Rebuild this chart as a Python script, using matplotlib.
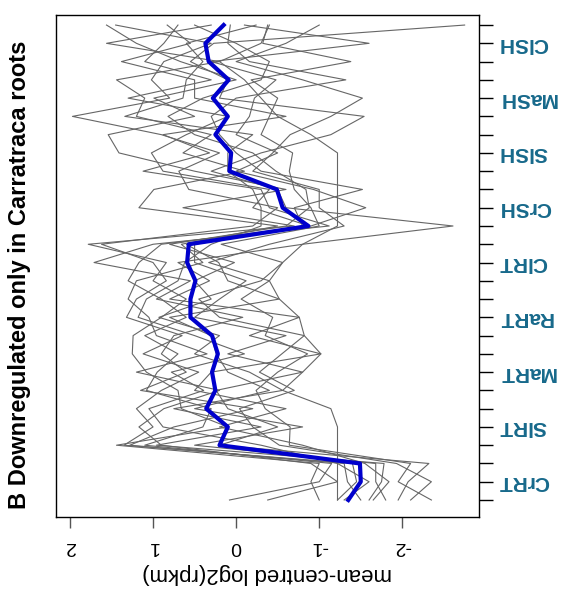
import matplotlib.pyplot as plt
import numpy as np

plt.rcParams['font.family'] = ['Liberation Sans', 'DejaVu Sans']

# samples bottom -> top, three replicates each
groups = ['CrRT', 'SlRT', 'MaRT', 'RaRT', 'ClRT', 'CrSH', 'SlSH', 'MaSH', 'ClSH']
n_rep = 3

# mean-centred log2(rpkm) of each gene, 27 samples
gene_01 = [0.08, -1.0, -1.15, 1.1, 0.40, 0.3, 1.08, 0.95, 0.7, 1.1, 0.6, 0.9, 1.3, 1.17, 0.9,
           -0.88, -0.2, -0.4, 0.88, 1.02, 0.6, 0.1, 1.3, 0.3, 1.1, 0.87, 0.70]
gene_02 = [-0.38, -1.22, -0.9, 0.90, 1.17, 0.87, 0.2, 1.2, 0.35, 0.96, 1.05, 1.3, 1.2, 0.4, 0.66,
           -0.5, 1.17, 0.99, -0.1, 0.64, 0.3, 1.2, 1.1, 1.44, 0.2, 1.56, 0.3]
gene_03 = [-1.0, -0.9, -1.0, 1.44, 0.1, 0.66, 0.7, 1.08, 1.25, 1.24, 0.9, 0.6, 1.0, 0.84, 1.78,
           -0.7, 0.64, -0.6, 0.5, 1.41, 1.54, 0.5, 0.99, 0.0, 0.67, 1.2, 1.56]
gene_04 = [-1.22, -1.45, -1.4, 1.35, 1.0, 1.2, 0.9, 0.45, 1.12, 0.65, 1.32, 1.2, 0.84, 1.0, 1.62,
           -0.2, -0.5, 0.57, 0.69, 0.2, 0.9, 1.97, 0.8, 1.02, 0.87, 0.3, 1.45]
gene_05 = [-1.3, -1.6, -1.22, -0.3, 0.88, 1.05, 0.39, 0.78, -0.1, 0.5, 1.18, 1.08, 0.7, 0.62, 0.3,
           -0.3, -0.3, -0.2, 0.1, 0.1, -0.2, 1.34, 0.64, 0.6, 0.40, 0.6, -0.24]
gene_06 = [-1.5, -1.34, -1.3, 1.28, 0.75, -0.2, 1.15, 0.6, 0.9, 0.75, -0.08, 0.96, 0.55, 1.71, 1.0,
           -1.12, -0.4, -0.3, 1.12, 0.32, 0.88, -0.6, 0.5, 0.5, 1.38, 0.55, 0.83]
gene_07 = [-1.6, -1.75, -1.78, 0.96, -0.3, 0.75, -0.56, -0.16, 0.5, 0.2, 0.93, 0.3, 0.5, 0.02, 0.8,
           -0.6, -0.88, -0.84, -0.48, -0.2, 0.5, 0.82, 0.4, -0.3, -0.4, 0.0, 0.5]
gene_08 = [-1.65, -1.84, -1.55, -0.8, 0.2, -0.6, 0.5, 0.3, -1.02, -0.16, -0.76, 0.8, 0.32, 0.7, -0.8,
           -2.61, -0.6, -0.5, 0.3, -0.3, -1.14, -1.54, 0.2, 0.1, 0.55, 0.27, -2.75]
gene_09 = [-1.8, -1.68, -1.68, 0.5, -0.8, 0.5, -0.4, 0.1, 0.24, 0.3, 0.8, -0.52, 0.1, 0.21, 0.6,
           -0.8, -0.7, -1.52, -0.3, 0.0, 0.2, 0.3, 0.0, -1.32, -0.16, 0.10, 0.07]
gene_10 = [-1.95, -2.07, -2.32, 0.2, -0.5, 0.1, 0.24, -0.8, 0.1, -0.6, 0.5, 0.2, -0.12, 0.5, 0.5,
           -0.9, -1.56, -0.93, 0.0, -0.5, 0.0, -0.16, -0.22, -0.48, 0.3, -1.60, -0.1]
gene_11 = [-2.1, -2.35, -1.93, -0.52, -0.2, -0.04, -0.7, -0.28, -0.55, -0.82, 0.2, 0.45, -0.3, -0.56, 0.18,
           -1.0, -0.9, -0.7, -0.64, -0.68, -0.3, -0.4, -0.5, -0.18, -1.38, -0.32, -0.38]
gene_12 = [-2.35, -1.95, -2.1, -0.64, -0.65, -0.35, -0.24, -0.5, -0.86, -0.35, -0.44, -0.06, -0.4, 0.33, -0.4,
           -1.3, -1.0, -1.0, -0.2, -0.44, -0.65, -1.14, -1.52, -0.8, 0.0, -0.6, -1.0]
gene_13 = [-1.22, -1.22, -1.22, -1.22, -1.22, -1.14, -0.56, -0.8, -1.02, -0.82, -0.76, -0.52, -0.4, -0.56, -0.8,
           -1.22, -1.22, -1.22, -1.22, -1.22, -0.9, -0.5, -0.3, -0.1, 0.2, -0.3, -0.4]

# cluster mean (blue)
mean_profile = [-1.35, -1.50, -1.49, 0.20, 0.10, 0.36, 0.25, 0.29, 0.22, 0.29, 0.55, 0.55, 0.49, 0.59, 0.57,
                -0.87, -0.56, -0.49, 0.08, 0.06, 0.25, 0.10, 0.28, 0.09, 0.33, 0.37, 0.15]

genes = [gene_01, gene_02, gene_03, gene_04, gene_05, gene_06, gene_07, gene_08, gene_09,
         gene_10, gene_11, gene_12, gene_13]

pos = np.arange(1, len(groups) * n_rep + 1)
label_color = '#17698b'

fig = plt.figure(figsize=(5.61, 5.95), dpi=100)
ax = fig.add_axes([56 / 561, 1 - 517 / 595, (479 - 56) / 561, (517 - 15) / 595])

for g in genes:
    ax.plot(g, pos, color='#666666', linewidth=0.8)
ax.plot(mean_profile, pos, color='#0000cc', linewidth=3)

ax.set_xlim(2.168, -2.923)
ax.set_ylim(0.07, 27.55)

ax.set_xticks([2, 1, 0, -1, -2])
ax.set_xticklabels(['2', '1', '0', '-1', '-2'], rotation=180, fontsize=14)
ax.tick_params(axis='x', length=8, width=1, color='#555555', pad=7)
ax.set_xlabel('mean-centred log2(rpkm)', rotation=180, fontsize=16, labelpad=6)

ax.yaxis.tick_right()
ylabels = []
for i in range(len(pos)):
    ylabels.append(groups[i // n_rep] if i % n_rep == 1 else '')
ax.set_yticks(pos)
ax.set_yticklabels(ylabels, rotation=180, fontsize=15, fontweight='bold', color=label_color, va='center')
ax.tick_params(axis='y', length=10, width=1, pad=4)

for s in ax.spines.values():
    s.set_linewidth(1)

fig.text(0.035, 1 - 275 / 595, 'B Downregulated only in Carratraca roots', rotation=90,
         fontsize=17, fontweight='bold', ha='center', va='center')

plt.savefig('out.png', dpi=100, facecolor='white')
